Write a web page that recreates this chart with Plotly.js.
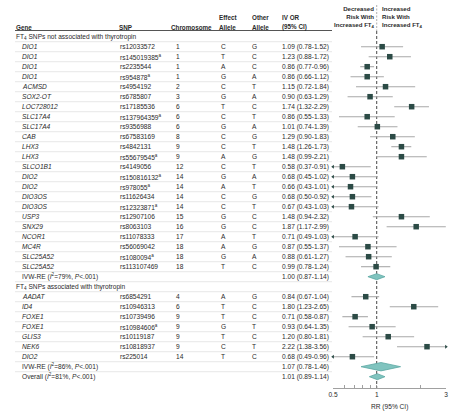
<!DOCTYPE html>
<html><head><meta charset="utf-8">
<script src="https://cdn.plot.ly/plotly-3.0.1.min.js"></script>
<style>html,body{margin:0;padding:0;background:#fff;}#chart{width:467px;height:414px;}</style>
</head><body><div id="chart"></div>
<script>
// ---------- DATA ----------
const genes1 = ["DIO1","DIO1","DIO1","DIO1","ACMSD","SOX2-OT","LOC728012","SLC17A4","SLC17A4","CAB","LHX3","LHX3","SLCO1B1","DIO2","DIO2","DIO3OS","DIO3OS","USP3","SNX29","NCOR1","MC4R","SLC25A52","SLC25A52"];
const snps1 = ["rs12033572","rs145019385","rs2235544","rs954878","rs4954192","rs6785807","rs17185536","rs137964359","rs9356988","rs67583169","rs4842131","rs55679545","rs4149056","rs150816132","rs978055","rs11626434","rs12323871","rs12907106","rs8063103","rs11078333","rs56069042","rs1080094","rs113107469"];
const note1 = [0,1,0,1,0,0,0,1,0,0,0,1,0,1,1,0,1,0,0,0,0,1,0];
const chrom1 = [1,1,1,1,2,3,6,6,6,8,9,9,12,14,14,14,14,15,16,17,18,18,18];
const eff1 = ["C","T","A","G","C","G","T","C","G","C","C","A","C","G","A","C","C","G","G","A","A","G","T"];
const oth1 = ["G","C","C","A","T","A","C","T","A","G","T","G","T","A","T","G","T","C","C","T","G","A","C"];
const or1 = [1.09,1.23,0.86,0.86,1.15,0.90,1.74,0.86,1.01,1.29,1.48,1.48,0.58,0.68,0.66,0.68,0.67,1.48,1.87,0.71,0.87,0.88,0.99];
const lo1 = [0.78,0.88,0.77,0.66,0.72,0.63,1.32,0.55,0.74,0.90,1.26,0.99,0.37,0.45,0.43,0.50,0.43,0.94,1.17,0.49,0.55,0.61,0.78];
const hi1 = [1.52,1.72,0.96,1.12,1.84,1.29,2.29,1.33,1.39,1.83,1.73,2.21,0.91,1.02,1.01,0.92,1.03,2.32,2.99,1.03,1.37,1.27,1.24];

const genes2 = ["AADAT","ID4","FOXE1","FOXE1","GLIS3","NEK6","DIO2"];
const snps2 = ["rs6854291","rs10946313","rs10739496","rs10984606","rs10119187","rs10818937","rs225014"];
const note2 = [0,0,0,1,0,0,0];
const chrom2 = [4,6,9,9,9,9,14];
const eff2 = ["A","T","T","G","T","C","T"];
const oth2 = ["G","C","C","T","C","T","C"];
const or2 = [0.84,1.80,0.71,0.93,1.20,2.22,0.68];
const lo2 = [0.67,1.23,0.58,0.64,0.80,1.38,0.49];
const hi2 = [1.04,2.65,0.87,1.35,1.81,3.56,0.96];

const groupTitles = ["FT<sub>4</sub> SNPs not associated with thyrotropin", "FT<sub>4</sub> SNPs associated with thyrotropin"];
const sumLabels = ["IVW-RE", "IVW-RE", "Overall"];
const sumI2 = [79, 86, 81];
const sumP = ["&lt;.001", "&lt;.001", "&lt;.001"];
const sumOR = [1.00, 1.07, 1.01];
const sumLo = [0.87, 0.78, 0.89];
const sumHi = [1.14, 1.46, 1.14];

const xTickVals = [0.5, 1, 3];
const xTickText = ["0.5", "1", "3"];
const xMinorVals = [0.6, 0.7, 0.8, 0.9, 2];
const xMin = 0.5, xMax = 3;

// ---------- LAYOUT HELPERS ----------
const W = 467, H = 414;
const P = x => x / W;
const rowTop = 36.7, rowH = 10;
const yTopPx = 5, yBotPx = 388;
const pxRow = py => (py - rowTop) / rowH;
const yRange = [pxRow(yBotPx), pxRow(yTopPx)];

const FONT = "'Liberation Sans', Arial, sans-serif";
const TXT = '#2a2a2a';
const FS = 6.6;
const HFS = 6.3;
const annotations = [];
const shapes = [];
function ann(xpx, y, text, o) {
  annotations.push(Object.assign({xref:'paper', yref:'y', x:P(xpx), y:y, text:text, showarrow:false,
    xanchor:'left', yanchor:'middle', borderpad:0, font:{family:FONT, size:FS, color:TXT}}, o || {}));
}
const fmt = (e,l,h) => `${e.toFixed(2)} (${l.toFixed(2)}-${h.toFixed(2)})`;

const COL = {group:15, gene:21, snp:118.5, chrom:175, eff:220, oth:251, or:281, tableEnd:332};

// header
const hb = s => `<b>${s}</b>`;
const hf = {font:{family:FONT, size:HFS, color:TXT}};
const h1 = pxRow(17), h2 = pxRow(27);
ann(COL.group, h2, hb('Gene'), hf);
ann(COL.snp, h2, hb('SNP'), hf);
ann(170, h2, hb('Chromosome'), hf);
ann(COL.eff - 2, h1, hb('Effect'), hf);
ann(COL.eff - 2, h2, hb('Allele'), hf);
ann(COL.oth, h1, hb('Other'), hf);
ann(COL.oth, h2, hb('Allele'), hf);
ann(COL.or, h1, hb('IV OR'), hf);
ann(COL.or, h2, hb('(95% CI)'), hf);
ann(375.5, pxRow(17), hb('Decreased<br>Risk With<br>Increased FT<sub>4</sub>'), {xanchor:'right', align:'right', font:{family:FONT, size:6.1, color:TXT}});
ann(381, pxRow(17), hb('Increased<br>Risk With<br>Increased FT<sub>4</sub>'), {align:'left', font:{family:FONT, size:6.1, color:TXT}});
shapes.push({type:'line', xref:'paper', yref:'y', x0:P(COL.group), x1:P(COL.tableEnd), y0:pxRow(30.5), y1:pxRow(30.5), line:{color:'#555', width:1}});

// rows
const ciX = [], ciY = [], ptX = [], ptY = [];
const clipLX = [], clipLY = [], clipRX = [], clipRY = [];
const diamonds = [];
let r = 0;
function dataRow(g, s, n, c, e, o, est, l, h) {
  ann(COL.gene, r, `<i>${g}</i>`);
  ann(COL.snp, r, s + (n ? '<sup>a</sup>' : ''));
  ann(COL.chrom, r, String(c));
  ann(COL.eff, r, e);
  ann(COL.oth, r, o);
  ann(COL.or, r, fmt(est, l, h));
  ciX.push(Math.max(l, xMin), Math.min(h, xMax), null); ciY.push(r, r, null);
  if (l <= xMin) { clipLX.push(xMin); clipLY.push(r); }
  if (h > xMax) { clipRX.push(xMax); clipRY.push(r); }
  ptX.push(est); ptY.push(r);
  r++;
}
function sumRow(k) {
  ann(COL.gene, r, `${sumLabels[k]} (<i>I</i><sup>2</sup>=${sumI2[k]}%, <i>P</i>${sumP[k]})`);
  ann(COL.or, r, fmt(sumOR[k], sumLo[k], sumHi[k]));
  diamonds.push({k:k, row:r});
  r++;
}
ann(COL.group, r, groupTitles[0]); r++;
genes1.forEach((g,i)=>dataRow(g, snps1[i], note1[i], chrom1[i], eff1[i], oth1[i], or1[i], lo1[i], hi1[i]));
sumRow(0);
ann(COL.group, r, groupTitles[1]); r++;
genes2.forEach((g,i)=>dataRow(g, snps2[i], note2[i], chrom2[i], eff2[i], oth2[i], or2[i], lo2[i], hi2[i]));
sumRow(1);
sumRow(2);

for (let b = 0; b < r - 1; b++) {
  shapes.push({type:'line', xref:'paper', yref:'y', x0:P(COL.group), x1:P(COL.tableEnd), y0:b+0.5, y1:b+0.5, line:{color:'#d6d6d6', width:0.6}, layer:'below'});
}
// reference line at 1
shapes.push({type:'line', xref:'x', yref:'y', x0:1, x1:1, y0:pxRow(5), y1:pxRow(31), line:{color:'#9a9a9a', width:0.8, dash:'2px,1.5px'}, layer:'below'});
shapes.push({type:'line', xref:'x', yref:'y', x0:1, x1:1, y0:pxRow(31), y1:yRange[0], line:{color:'#333', width:0.9, dash:'3px,2px'}, layer:'below'});

const MK = '#2c4b46';
const traces = [];
traces.push({type:'scatter', mode:'lines', x:ciX, y:ciY, line:{color:'#a8a8a8', width:1.1}, hoverinfo:'skip'});
traces.push({type:'scatter', mode:'markers', x:clipLX, y:clipLY, marker:{symbol:'triangle-left', size:3.5, color:MK}, cliponaxis:false, hoverinfo:'skip'});
traces.push({type:'scatter', mode:'markers', x:clipRX, y:clipRY, marker:{symbol:'triangle-right', size:3.5, color:MK}, cliponaxis:false, hoverinfo:'skip'});
traces.push({type:'scatter', mode:'markers', x:ptX, y:ptY, marker:{symbol:'square', size:5.5, color:MK, line:{width:0}}, hoverinfo:'skip'});
const dHalf = [0.3, 0.42, 0.3];
diamonds.forEach(d=>{
  const k = d.k, y = d.row, hh = dHalf[k];
  traces.push({type:'scatter', mode:'lines', x:[sumLo[k], sumOR[k], sumHi[k], sumOR[k], sumLo[k]], y:[y, y-hh, y, y+hh, y],
    fill:'toself', fillcolor:'#80c4bf', line:{color:'#5ca8a3', width:0.8}, hoverinfo:'skip'});
});

annotations.push({xref:'paper', yref:'paper', x:P(389.5), y:1-407/H, text:'RR (95% CI)', showarrow:false, xanchor:'center', yanchor:'middle', font:{family:FONT, size:FS, color:TXT}});

const layout = {
  width:W, height:H, margin:{l:0,r:0,t:0,b:0,pad:0}, showlegend:false,
  paper_bgcolor:'#fff', plot_bgcolor:'#fff',
  xaxis:{type:'log', range:[Math.log10(xMin), Math.log10(xMax)], domain:[P(333), P(446)], anchor:'y',
    tickmode:'array', tickvals:xTickVals, ticktext:xTickText, ticks:'inside', ticklen:3, tickwidth:0.8, tickcolor:'#888',
    minor:{tickmode:'array', tickvals:xMinorVals, ticks:'inside', ticklen:3, tickwidth:0.8, tickcolor:'#888', showgrid:false},
    showline:true, linecolor:'#888', linewidth:0.8, showgrid:false, zeroline:false, fixedrange:true,
    tickfont:{family:FONT, size:FS, color:TXT}},
  yaxis:{range:yRange, domain:[1-yBotPx/H, 1-yTopPx/H], visible:false, fixedrange:true},
  annotations:annotations, shapes:shapes
};
Plotly.newPlot('chart', traces, layout, {staticPlot:true, displayModeBar:false});
</script>
</body></html>
